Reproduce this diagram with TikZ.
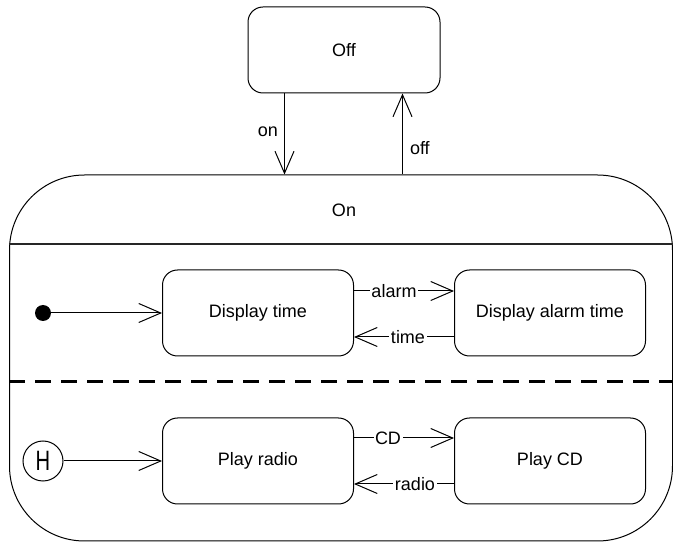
\documentclass[tikz,border=0pt]{standalone}
\usepackage{fontspec}
\setmainfont{Liberation Sans}
\usetikzlibrary{arrows.meta}
\begin{document}
\begin{tikzpicture}[x=1pt,y=-1pt,
  every node/.style={font=\fontsize{18}{21}\selectfont},
  statebox/.style={draw, line width=1pt, rounded corners=15pt, minimum width=191pt, minimum height=86pt, inner sep=0pt},
  tr/.style={draw, line width=1pt, -{Straight Barb[length=22pt,width=19pt]}},
  lbl/.style={fill=white, inner sep=1.5pt}]
\useasboundingbox (0,0) rectangle (673,545);
% composite state On
\node[draw, line width=1pt, rounded corners=75pt, minimum width=663pt, minimum height=366pt, inner sep=0pt] (onbox) at (341,358) {};
\node (ontitle) at (344,210) {On};
\coordinate (sepl) at (9,244);
\coordinate (sepr) at (673,244);
\draw[line width=1.5pt, black!85] (sepl) -- (sepr);
\coordinate (dashl) at (9,382);
\coordinate (dashr) at (673,382);
\draw[line width=3pt, dash pattern=on 16pt off 10pt] (dashl) -- (dashr);
% Off state
\node[statebox, minimum width=192pt] (off) at (344,50) {Off};
\draw[tr] ([xshift=37pt]off.south west) -- ([xshift=37pt]off.south west |- onbox.north) node[pos=0.47, left=6pt, inner sep=0pt] {on};
\draw[tr] ([xshift=155pt]off.south west |- onbox.north) -- ([xshift=155pt]off.south west) node[pos=0.33, right=7pt, inner sep=0pt] {off};
% upper region
\node[circle, fill, minimum size=16pt, inner sep=0pt] (init) at (43,313) {};
\node[statebox] (dt) at (258,313) {Display time};
\node[statebox] (dat) at (550,313) {Display alarm time};
\draw[tr] (init) -- (dt);
\draw[tr] ([yshift=22pt]dt.east) -- ([yshift=22pt]dat.west) node[lbl, pos=0.40] {alarm};
\draw[tr] ([yshift=-24pt]dat.west) -- ([yshift=-24pt]dt.east) node[lbl, pos=0.46] {time};
% lower region
\node[circle, draw, line width=1pt, minimum size=40pt, inner sep=0pt, font=\fontsize{28}{30}\selectfont] (hist) at (43,461) {\scalebox{0.72}[1]{H}};
\node[statebox] (pr) at (258,461) {Play radio};
\node[statebox] (pcd) at (550,461) {Play CD};
\draw[tr] (hist) -- (pr);
\draw[tr] ([yshift=23pt]pr.east) -- ([yshift=23pt]pcd.west) node[lbl, pos=0.34] {CD};
\draw[tr] ([yshift=-23pt]pcd.west) -- ([yshift=-23pt]pr.east) node[lbl, pos=0.39] {radio};
\end{tikzpicture}
\end{document}
